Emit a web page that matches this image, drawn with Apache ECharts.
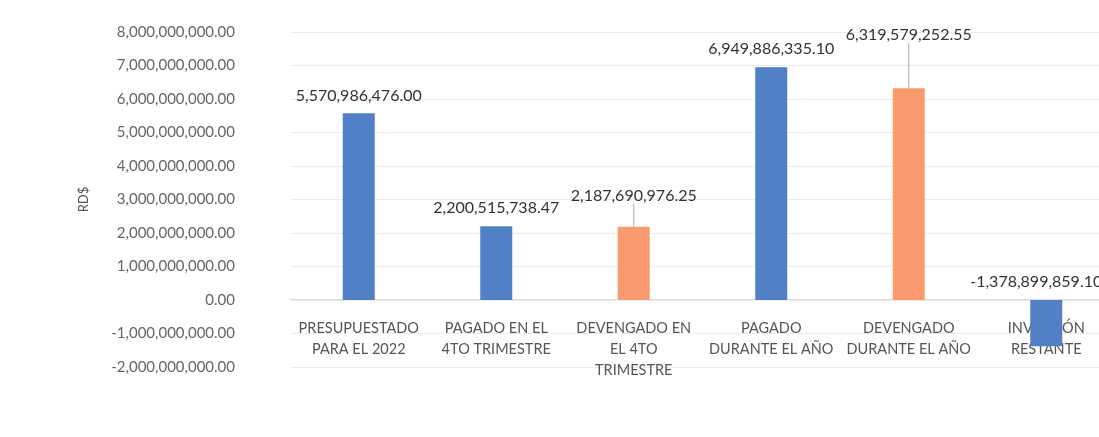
<!DOCTYPE html>
<html>
<head>
<meta charset="utf-8">
<script src="https://cdn.jsdelivr.net/npm/echarts@6/dist/echarts.min.js"></script>
<style>
html,body{margin:0;padding:0;background:#fff;}
#chart{width:1099px;height:437px;}
</style>
</head>
<body>
<div id="chart"></div>
<script>
const categories = [
  "PRESUPUESTADO\nPARA EL 2022",
  "PAGADO EN EL\n4TO TRIMESTRE",
  "DEVENGADO EN\nEL 4TO\nTRIMESTRE",
  "PAGADO\nDURANTE EL AÑO",
  "DEVENGADO\nDURANTE EL AÑO",
  "INVERSIÓN\nRESTANTE"
];
const values = [5570986476.00, 2200515738.47, 2187690976.25, 6949886335.10, 6319579252.55, -1378899859.10];
const barColors = ["#5280c6", "#5280c6", "#fa9a6e", "#5280c6", "#fa9a6e", "#5280c6"];
const yTicks = { min: -2000000000, max: 8000000000, interval: 1000000000 };
const axisName = "RD$";

const fmt = v => v.toLocaleString('en-US', {minimumFractionDigits: 2, maximumFractionDigits: 2});
const labelDy = [0, 0, -13, 0, -35, 0];
const labelDx = [0, 0, 0, 0, 0, -10];

const chart = echarts.init(document.getElementById('chart'));
chart.setOption({
  backgroundColor: '#fff',
  animation: false,
  grid: { left: 290, right: -16, top: 32, bottom: 70, containLabel: false, outerBoundsMode: 'none' },
  xAxis: {
    type: 'category',
    data: categories,
    offset: -68,
    axisLine: { show: true, onZero: false, lineStyle: { color: '#dcdcdc' } },
    axisTick: { show: false },
    axisLabel: { margin: 19, color: '#555', fontFamily: 'Lato', fontSize: 14.5, lineHeight: 21, interval: 0 },
    z: 1
  },
  yAxis: {
    type: 'value',
    min: yTicks.min, max: yTicks.max, interval: yTicks.interval,
    name: axisName,
    nameLocation: 'middle',
    nameGap: 200,
    nameRotate: 90,
    nameTextStyle: { color: '#555', fontFamily: 'Lato', fontSize: 13 },
    axisLine: { show: false },
    axisTick: { show: false },
    axisLabel: { margin: 55, color: '#666', fontFamily: 'Lato', fontSize: 15, formatter: v => fmt(v) },
    splitLine: { lineStyle: { color: '#ececec', width: 1 } }
  },
  series: [{
    type: 'bar',
    z: 5,
    barWidth: 32,
    data: values.map((v, i) => ({
      value: v,
      itemStyle: { color: barColors[i] },
      labelLine: { show: labelDy[i] !== 0 }
    })),
    label: {
      show: true,
      position: 'top',
      distance: 10,
      color: '#333',
      fontFamily: 'Lato',
      fontSize: 16,
      formatter: p => fmt(p.value)
    },
    labelLine: { show: false, lineStyle: { color: '#aaa', width: 1 } },
    labelLayout: p => ({ dy: labelDy[p.dataIndex], dx: labelDx[p.dataIndex] })
  }]
});
</script>
</body>
</html>
